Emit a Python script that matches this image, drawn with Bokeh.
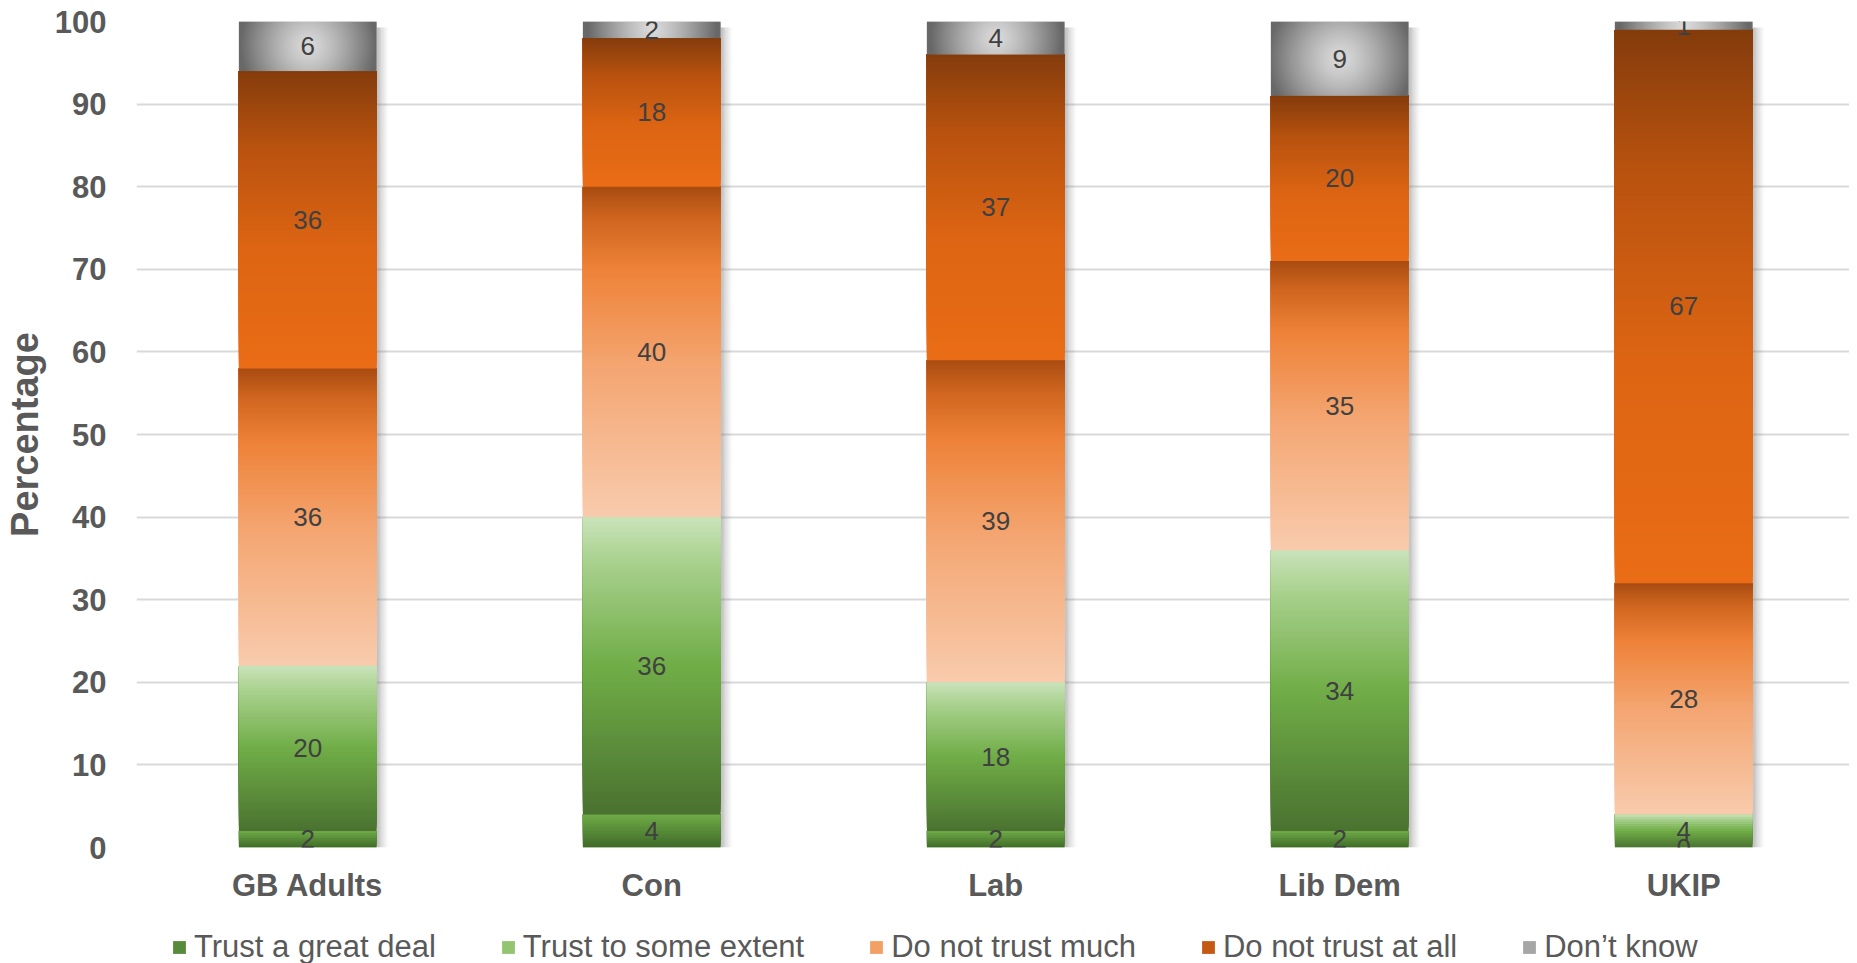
import math
import numpy as np
from bokeh.plotting import figure
from bokeh.layouts import column
from bokeh.models import Range1d, ColumnDataSource, Legend, LegendItem, FixedTicker, LabelSet
from bokeh.core.properties import value
from bokeh.embed import file_html
from bokeh.resources import INLINE

# ---------------- data ----------------
categories = ["GB Adults", "Con", "Lab", "Lib Dem", "UKIP"]
trust_great_deal = [2, 4, 2, 2, 0]
trust_some_extent = [20, 36, 18, 34, 4]
not_trust_much = [36, 40, 39, 35, 28]
not_trust_at_all = [36, 18, 37, 20, 67]
dont_know = [6, 2, 4, 9, 1]
series_names = ["Trust a great deal", "Trust to some extent", "Do not trust much",
                "Do not trust at all", "Don\u2019t know"]
y_ticks = [0, 10, 20, 30, 40, 50, 60, 70, 80, 90, 100]

series_values = [trust_great_deal, trust_some_extent, not_trust_much, not_trust_at_all, dont_know]

# ---------------- style ----------------
FONT = "Liberation Sans"
W = 1849
H = 905            # main chart height
LH = 58            # legend strip height
ML, MT = 128, 21
FRAME_H = 827
MB = H - MT - FRAME_H
X0, X1 = -0.4977, 4.482
BAR_W = 0.4
FRAME_W = W - ML
PX_X = FRAME_W / (X1 - X0)
PX_Y = FRAME_H / 100.0

# gradient stops, t = 0 bottom, 1 top
stops = [
    [(0.0, "#3f6a28"), (1.0, "#6fab47")],
    [(0.0, "#4a7230"), (0.5, "#70ad47"), (0.85, "#a9d18e"), (1.0, "#cae3bb")],
    [(0.0, "#f8cbad"), (0.45, "#f4a672"), (0.75, "#ee8238"), (0.9, "#d0661f"), (1.0, "#a94c12")],
    [(0.0, "#ea6c16"), (0.4, "#dd6513"), (0.75, "#b8520f"), (1.0, "#843c0c")],
]
legend_colors = ["#578a3a", "#93c571", "#f2a064", "#c45a12", "#a6a6a6"]
GREY_C, GREY_E = "#dadada", "#686868"


def hex2rgb(h):
    h = h.lstrip("#")
    return tuple(int(h[i:i + 2], 16) for i in (0, 2, 4))


def rgb2hex(c):
    return "#%02x%02x%02x" % tuple(max(0, min(255, int(round(v)))) for v in c)


def mix(a, b, t):
    a, b = hex2rgb(a), hex2rgb(b)
    return rgb2hex([a[i] + (b[i] - a[i]) * t for i in range(3)])


def grad(st, t):
    t = max(0.0, min(1.0, t))
    for (t0, c0), (t1, c1) in zip(st[:-1], st[1:]):
        if t <= t1:
            return mix(c0, c1, (t - t0) / (t1 - t0) if t1 > t0 else 0)
    return st[-1][1]


p = figure(width=W, height=H, x_range=Range1d(X0, X1), y_range=Range1d(0, 100),
           output_backend="svg", toolbar_location=None,
           min_border_left=ML, min_border_right=0, min_border_top=MT, min_border_bottom=MB)
p.outline_line_color = None
p.background_fill_color = "white"
p.border_fill_color = "white"

xs = list(range(len(categories)))

# shadows
sh = dict(left=[], right=[], bottom=[], top=[], alpha=[])
NS = 10
for i in xs:
    total = sum(s[i] for s in series_values)
    for k in range(NS):
        l = i + BAR_W / 2 + k * 1.2 / PX_X
        sh["left"].append(l)
        sh["right"].append(l + 1.2 / PX_X)
        sh["bottom"].append(0)
        sh["top"].append(total - 6 / PX_Y)
        sh["alpha"].append(0.5 * (1 - k / NS) ** 1.4)
p.quad(left="left", right="right", bottom="bottom", top="top", source=ColumnDataSource(sh),
       fill_color="#777777", fill_alpha="alpha", line_color=None)

# base bars
bottoms = [0] * len(categories)
segs = []
for si, vals in enumerate(series_values):
    tops = [b + v for b, v in zip(bottoms, vals)]
    p.vbar(x=xs, width=BAR_W, bottom=bottoms, top=tops, fill_color=legend_colors[si], line_color=None)
    segs.append((list(bottoms), tops))
    bottoms = tops

# vertical gradient overlays
g = dict(left=[], right=[], bottom=[], top=[], color=[])
for si in range(4):
    b_list, t_list = segs[si]
    for i in xs:
        b, t = b_list[i], t_list[i]
        h = t - b
        if h <= 0:
            continue
        n = max(2, int(math.ceil(h * PX_Y / 2.5)))
        for k in range(n):
            yb = b + h * k / n
            g["left"].append(i - BAR_W / 2)
            g["right"].append(i + BAR_W / 2)
            g["bottom"].append(yb)
            g["top"].append(t)
            g["color"].append(grad(stops[si], (k + 0.5) / n))
p.quad(left="left", right="right", bottom="bottom", top="top", source=ColumnDataSource(g),
       fill_color="color", line_color=None)

# grey radial gradient as images
b_list, t_list = segs[4]
cc = np.array(hex2rgb(GREY_C), dtype=float)
ce = np.array(hex2rgb(GREY_E), dtype=float)
imgs, ix, iy, idw, idh = [], [], [], [], []
for i in xs:
    b, t = b_list[i], t_list[i]
    h = t - b
    if h <= 0:
        continue
    nx = int(round(BAR_W * PX_X))
    ny = max(2, int(round(h * PX_Y)))
    hw, hh = nx / 2.0, ny / 2.0
    R = math.hypot(hw, hh) * 0.92
    yy, xx = np.mgrid[0:ny, 0:nx]
    d = np.hypot(xx + 0.5 - hw, yy + 0.5 - hh) / R
    d = np.clip(d, 0, 1) ** 1.3
    rgb = cc[None, None, :] + (ce - cc)[None, None, :] * d[:, :, None]
    rgba = np.empty((ny, nx, 4), dtype=np.uint8)
    rgba[:, :, :3] = np.clip(np.round(rgb), 0, 255).astype(np.uint8)
    rgba[:, :, 3] = 255
    imgs.append(rgba.view(dtype=np.uint32).reshape((ny, nx)))
    ix.append(i - BAR_W / 2)
    iy.append(b)
    idw.append(BAR_W)
    idh.append(h)
p.image_rgba(image=imgs, x=ix, y=iy, dw=idw, dh=idh)

# data labels
lab = dict(x=[], y=[], text=[])
for si in range(5):
    b_list, t_list = segs[si]
    for i in xs:
        lab["x"].append(i)
        lab["y"].append((b_list[i] + t_list[i]) / 2)
        lab["text"].append(str(series_values[si][i]))
p.add_layout(LabelSet(x="x", y="y", text="text", source=ColumnDataSource(lab),
                      text_align="center", text_baseline="middle", text_font=value(FONT),
                      text_font_size="26px", text_color="#404040"))

# axes
p.xgrid.grid_line_color = None
p.ygrid.grid_line_color = "#d9d9d9"
p.ygrid.grid_line_width = 2
p.ygrid.ticker = FixedTicker(ticks=y_ticks)

ya = p.yaxis[0]
ya.ticker = FixedTicker(ticks=y_ticks)
ya.axis_line_color = None
ya.major_tick_line_color = None
ya.minor_tick_line_color = None
ya.major_label_standoff = 24
ya.major_label_text_font = FONT
ya.major_label_text_font_size = "31px"
ya.major_label_text_font_style = "bold"
ya.major_label_text_color = "#595959"
ya.axis_label = "Percentage"
ya.axis_label_text_font = FONT
ya.axis_label_text_font_size = "38px"
ya.axis_label_text_font_style = "bold"
ya.axis_label_text_color = "#595959"
ya.axis_label_standoff = 6

xa = p.xaxis[0]
xa.ticker = FixedTicker(ticks=xs)
xa.major_label_overrides = {i: c for i, c in enumerate(categories)}
xa.axis_line_color = None
xa.major_tick_line_color = None
xa.minor_tick_line_color = None
xa.major_label_standoff = 14
xa.major_label_text_font = FONT
xa.major_label_text_font_size = "31px"
xa.major_label_text_font_style = "bold"
xa.major_label_text_color = "#595959"

# ---------------- legend strip ----------------
p2 = figure(width=W, height=LH, x_range=Range1d(0, W), y_range=Range1d(0, LH),
            output_backend="svg", toolbar_location=None,
            x_axis_location=None, y_axis_location=None,
            min_border=0, min_border_left=0, min_border_right=0, min_border_top=0, min_border_bottom=0)
p2.grid.visible = False
p2.outline_line_color = None
p2.background_fill_color = "white"
p2.border_fill_color = "white"
# swatch renderers sit outside the visible range; only their legend glyphs show
dummies = [p2.quad(left=[-30], right=[-20], top=[-20], bottom=[-30], fill_color=c, line_color=None)
           for c in legend_colors]
legend = Legend(items=[LegendItem(label=n, renderers=[r]) for n, r in zip(series_names, dummies)],
                orientation="horizontal", location=(35, -2),
                label_text_font=FONT, label_text_font_size="31px", label_text_color="#595959",
                glyph_width=16, glyph_height=16, label_standoff=7, spacing=64,
                padding=0, margin=0, border_line_color=None, background_fill_alpha=0,
                label_height=32)
p2.add_layout(legend)

open("out.html", "w").write(file_html(column(p, p2, spacing=0), INLINE))
